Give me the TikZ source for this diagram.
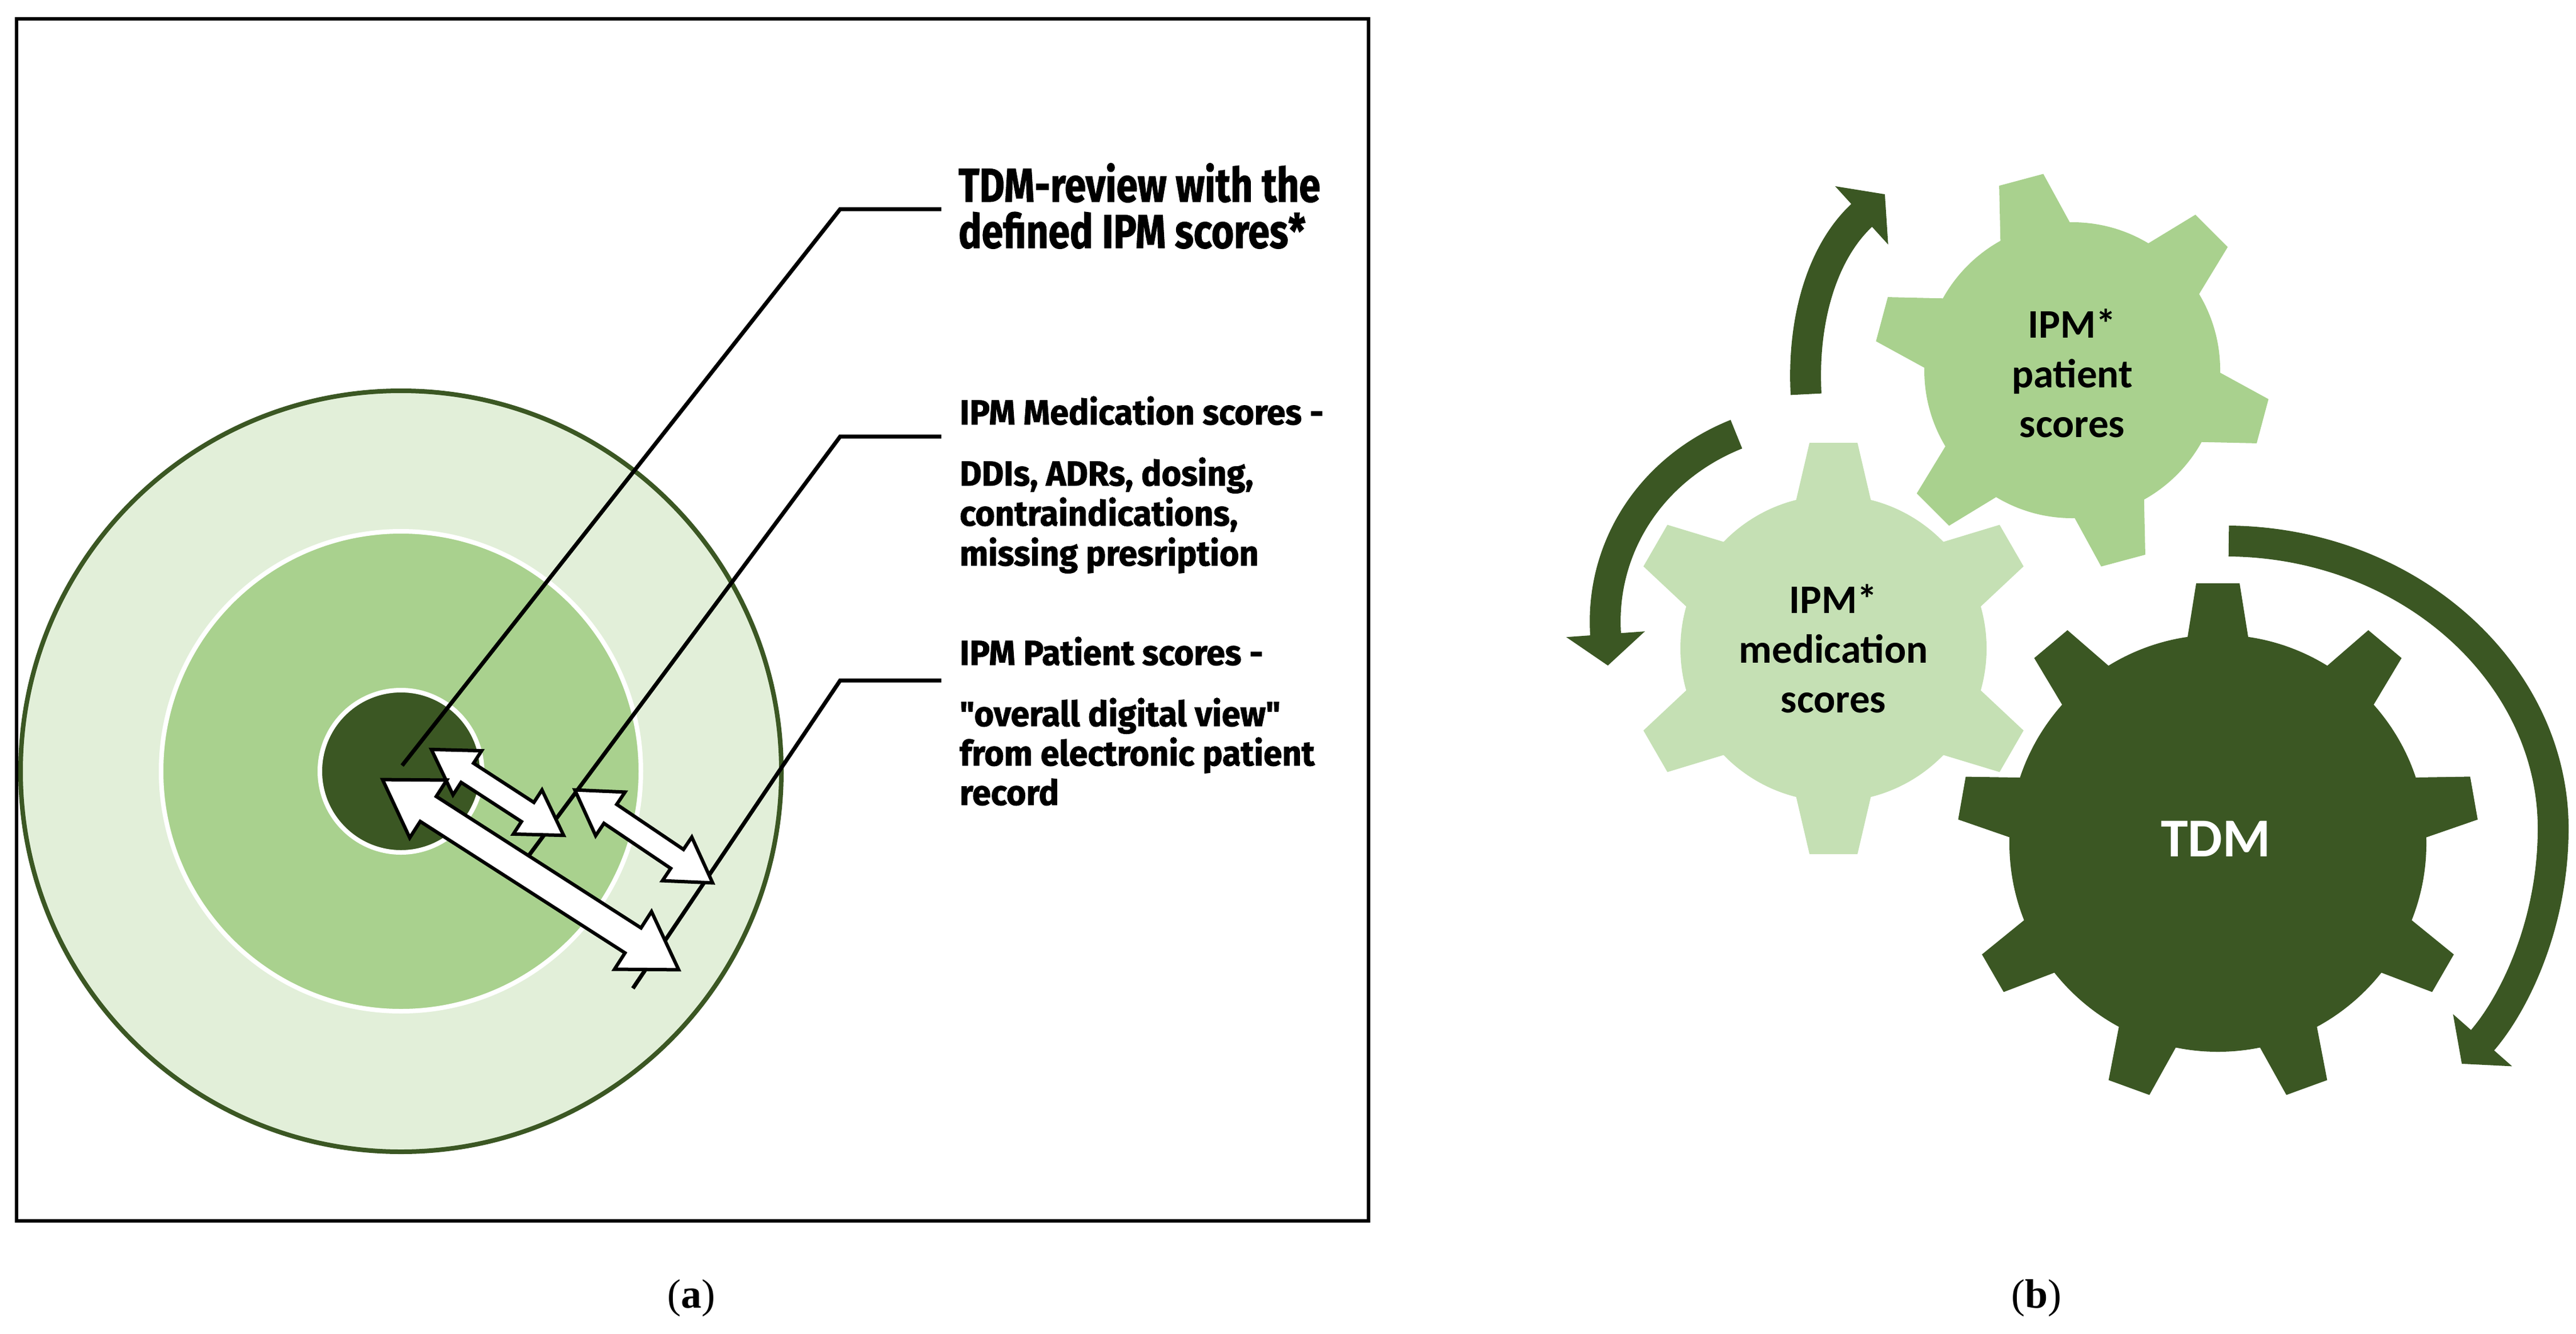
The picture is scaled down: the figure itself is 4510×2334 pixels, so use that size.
\documentclass[tikz,border=0pt]{standalone}
\usepackage{fontspec}
\setmainfont{Liberation Serif}
\newfontfamily\lbl{Fira Sans}[BoldFeatures={FakeBold=1.5}]
\newfontfamily\gear{Carlito}
\usetikzlibrary{arrows.meta}
\definecolor{dkg}{HTML}{3B5723}
\definecolor{ltg}{HTML}{E2EFD9}
\definecolor{mdg}{HTML}{A9D18E}
\definecolor{pg}{HTML}{C5E0B4}
\newcommand{\dblarr}[8]{% x,y,angle,L,shaft half,head half,head len,name
  \begin{scope}[shift={(#1,#2)},rotate=#3]
  \draw[fill=white,line width=6pt,line join=miter] (-#4/2,0) -- (-#4/2+#7,#6) -- (-#4/2+#7,#5) -- (#4/2-#7,#5) -- (#4/2-#7,#6) -- (#4/2,0)
   -- (#4/2-#7,-#6) -- (#4/2-#7,-#5) -- (-#4/2+#7,-#5) -- (-#4/2+#7,-#6) -- cycle;
  \coordinate (#8) at (0,0);
  \end{scope}}
\begin{document}
\begin{tikzpicture}[x=1pt,y=-1pt,
  leader/.style={line width=7pt,black},
  lab/.style={anchor=base west,inner sep=0pt,font=\lbl\bfseries\fontsize{61}{70}\selectfont,xscale=0.97,transform shape},
  big/.style={lab,font=\lbl\bfseries\fontsize{83}{81}\selectfont,xscale=0.84},
  gtxt/.style={font=\gear\bfseries\fontsize{71}{87}\selectfont,align=center,inner sep=0pt},
  carr/.style={line width=54pt,dkg,-{Triangle[width=135pt,length=55pt]}}]
\useasboundingbox (0,0) rectangle (4510,2334);
% panel a
\draw[line width=6pt] (29,33) rectangle (2396,2137);
\fill[ltg,draw=dkg,line width=8pt] (702,1350) circle (666);
\fill[mdg,draw=white,line width=8pt] (702,1350) circle (420);
\fill[dkg,draw=white,line width=8pt] (702,1350) circle (142);
\coordinate (c0) at (704,1340);
\coordinate (k1) at (1471,366); \coordinate (e1) at (1648,366);
\coordinate (c2) at (921,1504);
\coordinate (k2) at (1471,764); \coordinate (e2) at (1648,764);
\coordinate (c3) at (1108,1730);
\coordinate (k3) at (1471,1191); \coordinate (e3) at (1648,1191);
\draw[leader] (c0) -- (k1) -- (e1);
\draw[leader] (c2) -- (k2) -- (e2);
\draw[leader] (c3) -- (k3) -- (e3);
\dblarr{871}{1387}{-33}{276}{20}{46}{75}{aA}
\dblarr{1127}{1464}{-34}{291}{20}{46}{75}{aB}
\dblarr{929}{1531}{-32.7}{616}{26}{60}{95}{aC}
\node[big] (t1a) at (1678,353) {TDM-review with the};
\node[big] (t1b) at (1678,434) {defined IPM scores*};
\node[lab] (t2) at (1680,743) {IPM Medication scores -};
\node[lab] (t3a) at (1680,850) {DDIs, ADRs, dosing,};
\node[lab] (t3b) at (1680,920) {contraindications,};
\node[lab] (t3c) at (1680,990) {missing presription};
\node[lab] (t4) at (1680,1164) {IPM Patient scores -};
\node[lab] (t5a) at (1680,1271) {"overall digital view"};
\node[lab] (t5b) at (1680,1340) {from electronic patient};
\node[lab] (t5c) at (1680,1409) {record};
% panel b gears
\fill[dkg] (3883,1476) circle (365);
\foreach \a in {10,50,...,370}{
  \fill[dkg] ({3883+330*cos(\a)-(-58)*sin(\a)},{1476-(330*sin(\a)+(-58)*cos(\a))})
    -- ({3883+455*cos(\a)-(-38)*sin(\a)},{1476-(455*sin(\a)+(-38)*cos(\a))})
    -- ({3883+455*cos(\a)-(38)*sin(\a)},{1476-(455*sin(\a)+(38)*cos(\a))})
    -- ({3883+330*cos(\a)-(58)*sin(\a)},{1476-(330*sin(\a)+(58)*cos(\a))}) -- cycle;}
\fill[pg] (3210,1135) circle (268);
\foreach \a in {30,90,...,330}{
  \fill[pg] ({3210+240*cos(\a)-(-70)*sin(\a)},{1135-(240*sin(\a)+(-70)*cos(\a))})
    -- ({3210+360*cos(\a)-(-42)*sin(\a)},{1135-(360*sin(\a)+(-42)*cos(\a))})
    -- ({3210+360*cos(\a)-(42)*sin(\a)},{1135-(360*sin(\a)+(42)*cos(\a))})
    -- ({3210+240*cos(\a)-(70)*sin(\a)},{1135-(240*sin(\a)+(70)*cos(\a))}) -- cycle;}
\fill[mdg] (3628,648) circle (259);
\foreach \a in {45,105,...,345}{
  \fill[mdg] ({3628+230*cos(\a)-(-68)*sin(\a)},{648-(230*sin(\a)+(-68)*cos(\a))})
    -- ({3628+345*cos(\a)-(-40)*sin(\a)},{648-(345*sin(\a)+(-40)*cos(\a))})
    -- ({3628+345*cos(\a)-(40)*sin(\a)},{648-(345*sin(\a)+(40)*cos(\a))})
    -- ({3628+230*cos(\a)-(68)*sin(\a)},{648-(230*sin(\a)+(68)*cos(\a))}) -- cycle;}
\node[gtxt] (gp) at (3628,653) {IPM*\\patient\\scores};
\node[gtxt] (gm) at (3210,1135) {IPM*\\medication\\scores};
\node[gtxt,white,font=\gear\bfseries\fontsize{96}{100}\selectfont] (gt) at (3879,1468) {TDM};
% curved arrows
\coordinate (s1) at (3162,690); \coordinate (h1) at (3300,340);
\draw[carr] (s1) .. controls (3155,560) and (3190,440) .. (h1);
\coordinate (s2) at (3040,760); \coordinate (h2) at (2815,1165);
\draw[carr] (s2) .. controls (2890,820) and (2800,960) .. (h2);
\coordinate (s3) at (3902,947); \coordinate (m3) at (4470,1450); \coordinate (h3) at (4310,1862);
\draw[carr] (s3) .. controls (4220,950) and (4470,1180) .. (m3) .. controls (4470,1620) and (4400,1760) .. (h3);
% captions
\node[font=\fontsize{72}{76}\selectfont] (ca) at (1210,2272) {(\textbf{a})};
\node[font=\fontsize{72}{76}\selectfont] (cb) at (3565,2272) {(\textbf{b})};
\end{tikzpicture}
\end{document}
